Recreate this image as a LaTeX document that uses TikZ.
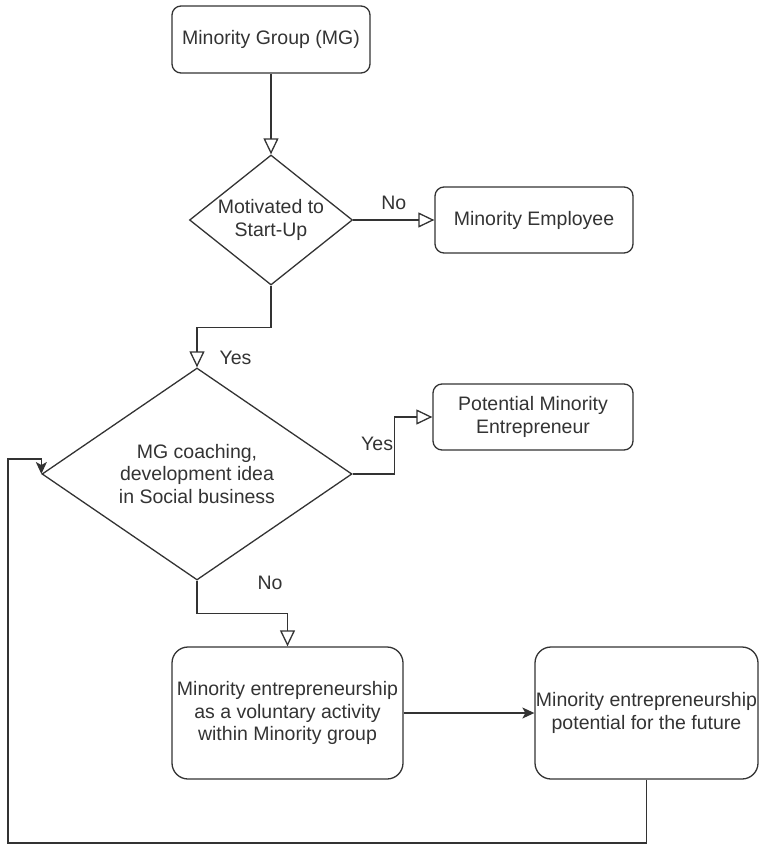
\documentclass[tikz,border=0pt]{standalone}
\usepackage{fontspec}
\setmainfont{Liberation Sans}
\usetikzlibrary{arrows.meta,shapes.geometric}

\begin{document}
\begin{tikzpicture}[x=1pt, y=-1pt,
    font=\fontsize{19.5}{22.5}\selectfont,
    block/.style={draw=black!80, line width=1.3pt, rounded corners=9pt, align=center, inner sep=0pt, text=black!80},
    decision/.style={draw=black!80, line width=1.3pt, diamond, align=center, inner sep=0pt, text=black!80},
    lbl/.style={inner sep=0pt, text=black!80},
    openarrow/.style={draw=black!80, line width=1.3pt, -{Triangle[open, length=16pt, width=15pt]}},
    fillarrow/.style={draw=black!80, line width=1.3pt, -{Stealth[length=12pt, width=11pt, inset=3pt]}}]
    \useasboundingbox (0,0) rectangle (758,845);

    \node[block, minimum width=198pt, minimum height=67pt] (mg) at (271,39.5) {Minority Group (MG)};
    \node[decision, aspect=1.25, minimum width=163pt, minimum height=130pt] (start) at (271,220) {Motivated to\\Start-Up};
    \node[block, minimum width=198pt, minimum height=66pt] (employee) at (534,220) {Minority Employee};

    \node[decision, aspect=1.46, minimum width=310pt, minimum height=212pt] (coach) at (197,474) {MG coaching,\\development idea\\in Social business};
    \node[block, minimum width=200pt, minimum height=66pt] (potential) at (533,417) {Potential Minority\\Entrepreneur};

    \node[block, rounded corners=16pt, minimum width=231pt, minimum height=132pt] (voluntary) at (287.5,713) {Minority entrepreneurship\\as a voluntary activity\\within Minority group};
    \node[block, rounded corners=16pt, minimum width=223pt, minimum height=132pt] (future) at (646.5,713) {Minority entrepreneurship\\potential for the future};

    \coordinate (loopbottom) at (8,843);
    \coordinate (looptop) at (8,459);

    \draw[openarrow] (mg) -- (start);
    \draw[openarrow] (start) -- (employee) node[lbl, midway, above=10pt] {No};
    \draw[openarrow] (start.south) -- ++(0,42) -| (coach.north) node[lbl, pos=0.88, right=22pt] {Yes};
    \draw[openarrow] (coach.east) -- ++(42,0) |- (potential.west) node[lbl, pos=0.26, left=1pt] {Yes};
    \draw[openarrow] (coach.south) -- ++(0,33) node[lbl, pos=0.06, right=60pt] {No} -| (voluntary.north);
    \draw[fillarrow] (voluntary) -- (future);
    \draw[fillarrow] (future.south) |- (loopbottom) -- (looptop) -| (coach.west);
\end{tikzpicture}
\end{document}
